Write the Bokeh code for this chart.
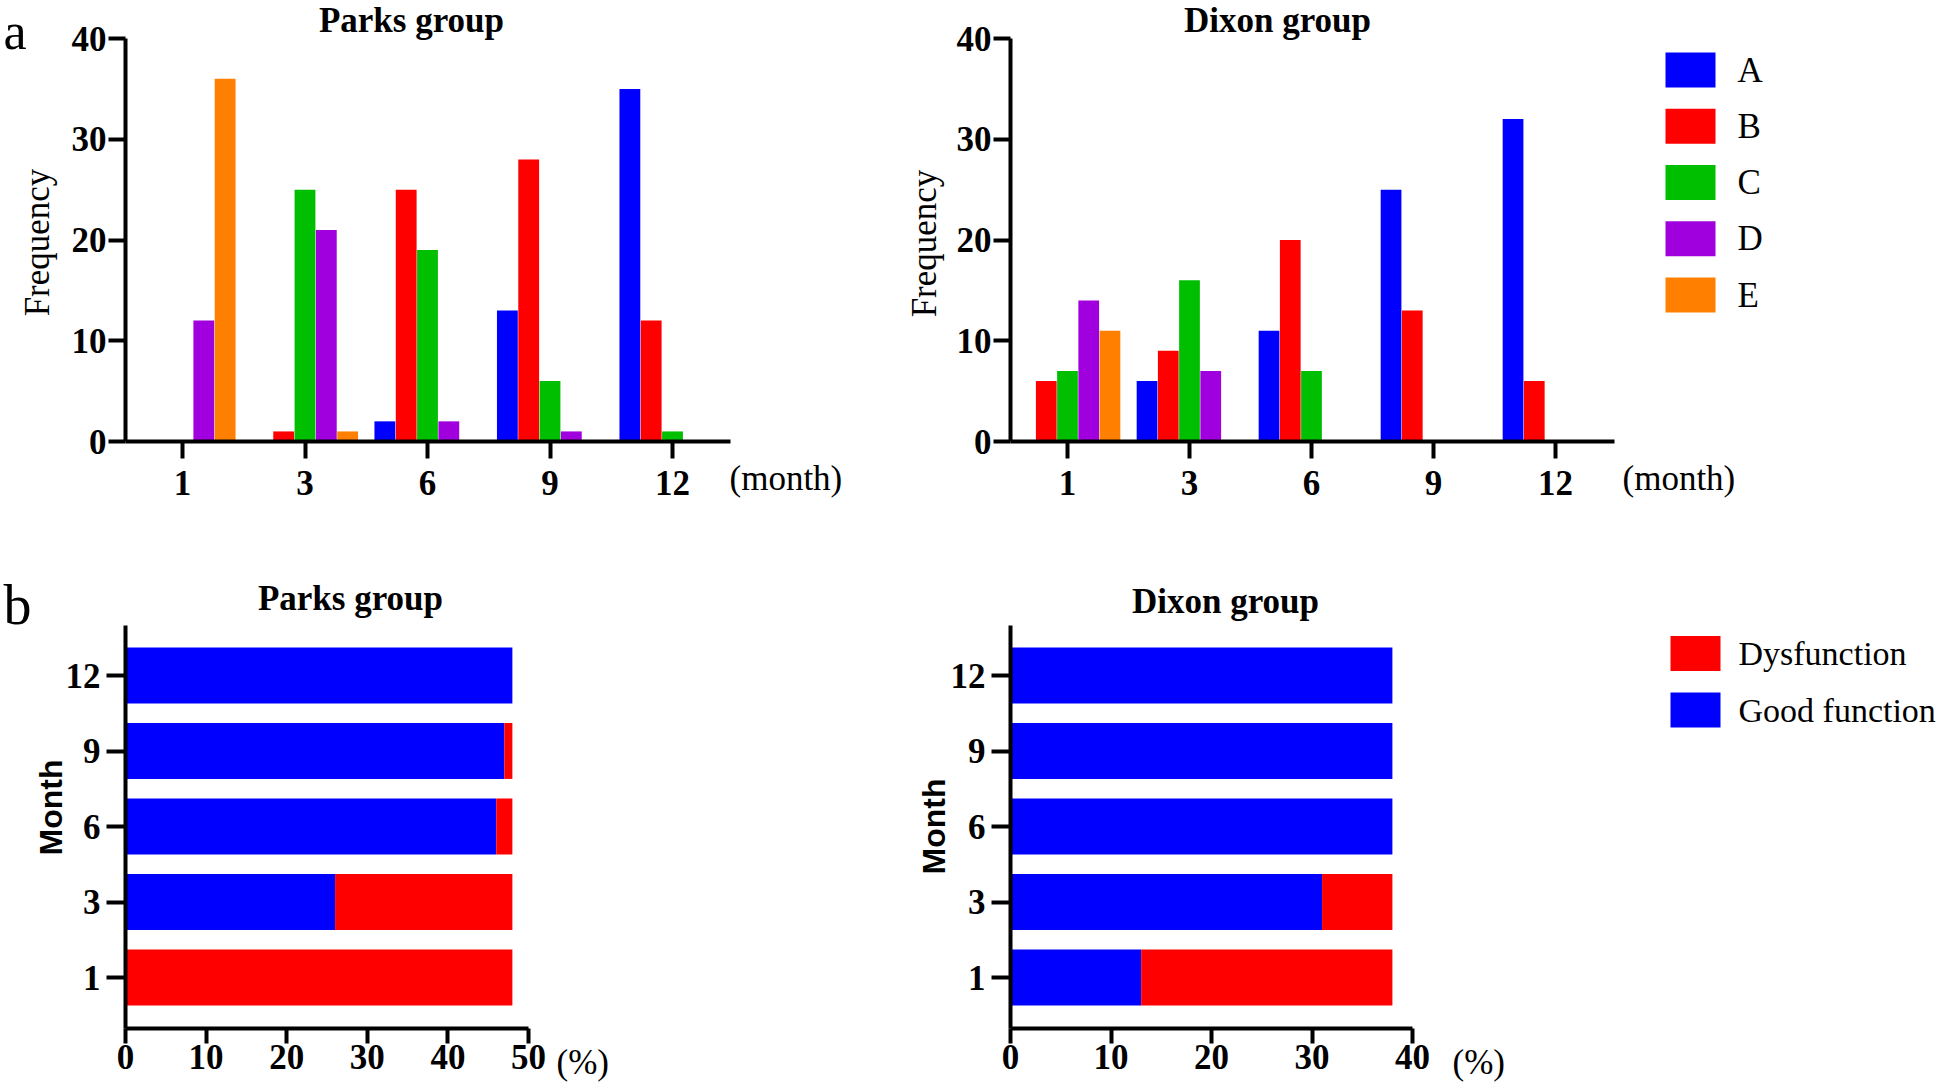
import math
from bokeh.plotting import figure
from bokeh.models import (ColumnDataSource, Range1d, FixedTicker, Label,
                          LinearAxis)
from bokeh.transform import dodge
from bokeh.layouts import row, column
from bokeh.core.properties import value
from bokeh.embed import file_html
from bokeh.resources import INLINE

# ---------------- data ----------------
months = ["1", "3", "6", "9", "12"]
grades = ["A", "B", "C", "D", "E"]
grade_colors = ["#0000FF", "#FF0000", "#00BF00", "#A000DD", "#FF8000"]

parks_A = [0, 0, 2, 13, 35]
parks_B = [0, 1, 25, 28, 12]
parks_C = [0, 25, 19, 6, 1]
parks_D = [12, 21, 2, 1, 0]
parks_E = [36, 1, 0, 0, 0]

dixon_A = [0, 6, 11, 25, 32]
dixon_B = [6, 9, 20, 13, 6]
dixon_C = [7, 16, 7, 0, 0]
dixon_D = [14, 7, 0, 0, 0]
dixon_E = [11, 0, 0, 0, 0]

function_labels = ["Dysfunction", "Good function"]
function_colors = ["#FF0000", "#0000FF"]
parks_good = [0, 26, 46, 47, 48]
parks_dys = [48, 22, 2, 1, 0]
dixon_good = [13, 31, 38, 38, 38]
dixon_dys = [25, 7, 0, 0, 0]

freq_ticks = [0, 10, 20, 30, 40]
parks_pct_ticks = [0, 10, 20, 30, 40, 50]
dixon_pct_ticks = [0, 10, 20, 30, 40]

# ---------------- style / geometry (page pixels) ----------------
SERIF = "Liberation Serif"
SANS = "Liberation Sans"
FS = "35px"
COLS = [0, 880, 1944]
ROWS = [0, 540, 1083]
BAR_STEP = 0.174
BAR_W = 0.170
HBAR_H = 0.74
MAPS = {}


def make_fig(ci, ri, xmap, ymap):
    """Figure whose frame is the whole canvas; xmap/ymap tie two data values
    to page pixels so that the plot area sits where the original has it."""
    cx0, cx1 = COLS[ci], COLS[ci + 1]
    cy0, cy1 = ROWS[ri], ROWS[ri + 1]
    (xd1, xp1), (xd2, xp2) = xmap
    (yd1, yp1), (yd2, yp2) = ymap
    sx = (xd2 - xd1) / (xp2 - xp1)
    sy = (yd2 - yd1) / (yp2 - yp1)

    def px2x(px):
        return xd1 + (px - xp1) * sx

    def py2y(py):
        return yd1 + (py - yp1) * sy

    p = figure(width=cx1 - cx0, height=cy1 - cy0,
               x_range=Range1d(px2x(cx0), px2x(cx1)),
               y_range=Range1d(py2y(cy1), py2y(cy0)),
               x_axis_type=None, y_axis_type=None, min_border=0,
               output_backend="svg", toolbar_location=None, title=None)
    p.outline_line_color = None
    p.xgrid.visible = False
    p.ygrid.visible = False
    p.background_fill_color = "white"
    p.border_fill_color = "white"
    MAPS[p.id] = (px2x, py2y)
    return p


def style_axis(ax, tick_out, standoff):
    ax.axis_line_width = 4
    ax.axis_line_color = "black"
    ax.major_tick_line_width = 4
    ax.major_tick_line_color = "black"
    ax.major_tick_out = tick_out
    ax.major_tick_in = 0
    ax.minor_tick_line_color = None
    ax.major_label_text_font = SERIF
    ax.major_label_text_font_style = "bold"
    ax.major_label_text_font_size = FS
    ax.major_label_text_color = "black"
    ax.major_label_standoff = standoff


def add_axes(p, frame, x_ticks, y_ticks, x_over, y_over, x_tick, y_tick):
    """frame = (left, right, top, bottom) of the axes box in page pixels."""
    px2x, py2y = MAPS[p.id]
    L, R, T, B = frame
    yax = LinearAxis(fixed_location=px2x(L), bounds=(py2y(B), py2y(T)),
                     ticker=FixedTicker(ticks=y_ticks))
    if y_over:
        yax.major_label_overrides = y_over
    style_axis(yax, *y_tick)
    p.add_layout(yax, "left")
    xax = LinearAxis(fixed_location=py2y(B), bounds=(px2x(L), px2x(R)),
                     ticker=FixedTicker(ticks=x_ticks))
    if x_over:
        xax.major_label_overrides = x_over
    style_axis(xax, *x_tick)
    p.add_layout(xax, "below")


def add_label(p, px, py, text, font=SERIF, style="normal", size=FS,
              align="center", baseline="middle", angle=0.0):
    px2x, py2y = MAPS[p.id]
    p.add_layout(Label(x=px2x(px), y=py2y(py), text=text, text_font=font,
                       text_font_style=style, text_font_size=size,
                       text_align=align, text_baseline=baseline,
                       angle=angle, text_color="black"))


def add_legend(p, names, colors, sq_cx, first_cy, step, text_x, size=FS):
    px2x, py2y = MAPS[p.id]
    n = len(names)
    src = ColumnDataSource(dict(
        x=[px2x(sq_cx)] * n,
        y=[py2y(first_cy + k * step) for k in range(n)],
        tx=[px2x(text_x)] * n, name=names, color=colors))
    p.rect(x="x", y="y", width=50, height=35, width_units="screen",
           height_units="screen", fill_color="color", line_color=None,
           source=src)
    p.text(x="tx", y="y", text="name", text_font=value(SERIF),
           text_font_size=value(size), text_baseline=value("middle"),
           text_align=value("left"), text_color="black", source=src)


def freq_panel(ci, xmap, frame, cols, title, title_x, freq_xy, month_x):
    p = make_fig(ci, 0, xmap, ((0, 441), (40, 38)))
    idx = list(range(len(months)))
    src = ColumnDataSource(dict(x=idx, **{g: v for g, v in zip(grades, cols)}))
    n = len(grades)
    for i, g in enumerate(grades):
        p.vbar(x=dodge("x", (i - (n - 1) / 2) * BAR_STEP), top=g, bottom=0,
               width=BAR_W, source=src, fill_color=grade_colors[i],
               line_color=None)
    add_axes(p, frame, idx, freq_ticks, {i: m for i, m in enumerate(months)},
             None, (17, 12), (17, 2))
    add_label(p, title_x, 20, title, style="bold")
    add_label(p, freq_xy[0], freq_xy[1], "Frequency", angle=math.pi / 2)
    add_label(p, month_x, 478, "(month)", align="left")
    return p


def func_panel(ci, xmap, frame, good, dys, ticks, title, title_x, title_y,
               month_xy, pct_x):
    p = make_fig(ci, 1, xmap, ((0, 977), (4, 675)))
    idx = list(range(len(months)))
    src = ColumnDataSource(dict(y=idx, good=good, dys=dys))
    p.hbar_stack(["good", "dys"], y="y", height=HBAR_H, source=src,
                 fill_color=[function_colors[1], function_colors[0]],
                 line_color=None)
    add_axes(p, frame, ticks, idx, None, {i: m for i, m in enumerate(months)},
             (15, 1), (19, 6))
    add_label(p, title_x, title_y, title, style="bold")
    add_label(p, month_xy[0], month_xy[1], "Month", font=SANS, style="bold",
              size="32px", angle=math.pi / 2)
    add_label(p, pct_x, 1062, "(%)", align="left")
    return p


pa = freq_panel(0, ((0, 182), (4, 672)), (125, 730, 38, 441),
                [parks_A, parks_B, parks_C, parks_D, parks_E],
                "Parks group", 411, (37, 242), 729)
da = freq_panel(1, ((0, 1067), (4, 1555)), (1010, 1614, 38, 441),
                [dixon_A, dixon_B, dixon_C, dixon_D, dixon_E],
                "Dixon group", 1277, (924, 243), 1622)
add_label(pa, 3, 31, "a", size="52px", align="left")
add_legend(da, grades, grade_colors, 1690, 69.5, 56.25, 1737)

pb = func_panel(0, ((0, 125), (50, 528)), (125, 528, 625, 1028),
                parks_good, parks_dys, parks_pct_ticks,
                "Parks group", 350, 598, (50, 807), 556)
db = func_panel(1, ((0, 1010), (40, 1412)), (1010, 1412, 625, 1028),
                dixon_good, dixon_dys, dixon_pct_ticks,
                "Dixon group", 1225, 601, (933, 826), 1452)
add_label(pb, 3, 604, "b", size="56px", align="left")
add_legend(db, function_labels, function_colors, 1695, 653, 56.5, 1738,
           size="34px")

layout = column(row(pa, da, spacing=0), row(pb, db, spacing=0), spacing=0)

open("out.html", "w").write(file_html(layout, INLINE))
